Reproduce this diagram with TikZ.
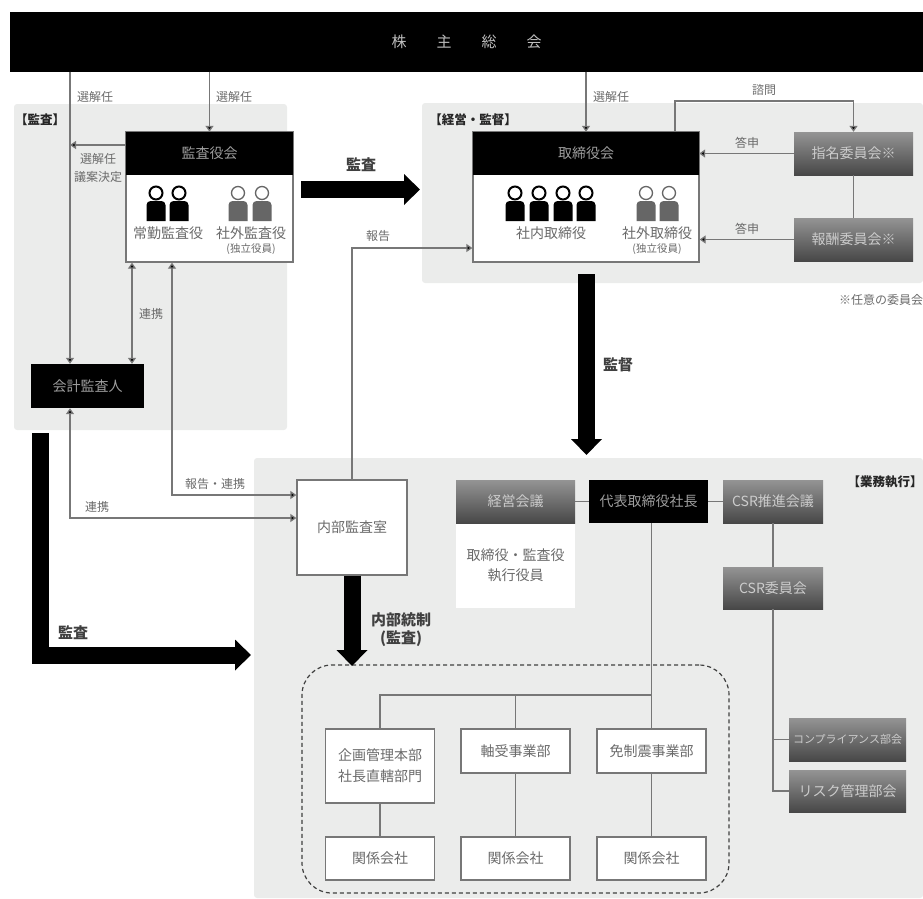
\documentclass[tikz,border=0pt]{standalone}
\usepackage{fontspec}
\setmainfont{Noto Sans CJK JP}
\usepackage{xcolor}
\usetikzlibrary{arrows.meta}
\definecolor{zonegray}{HTML}{EBECEB}
\definecolor{linegray}{HTML}{777777}
\definecolor{textgray}{HTML}{6A6A6A}
\tikzset{
  zone/.style={fill=zonegray,inner sep=0pt,rounded corners=3pt},
  whitebox/.style={draw=linegray,line width=1.3pt,fill=white,inner sep=0pt,text=textgray,font=\fontsize{14}{21}\selectfont,align=center},
  blackbox/.style={fill=black,inner sep=0pt,text=white!62!black,font=\fontsize{14}{16}\selectfont},
  graybox/.style={top color=black!42,bottom color=black!72,inner sep=0pt,text=white!80!black,font=\fontsize{14}{16}\selectfont},
  label/.style={text=textgray,inner sep=0pt,font=\fontsize{12}{18}\selectfont,align=center},
  namelabel/.style={text=textgray,inner sep=0pt,font=\fontsize{14}{16}\selectfont},
  indlabel/.style={text=textgray,inner sep=0pt,font=\fontsize{10.5}{12}\selectfont},
  arealabel/.style={text=black!85,inner sep=0pt,font=\fontsize{12.5}{14}\selectfont\bfseries},
  boldlabel/.style={text=black!75,inner sep=0pt,font=\fontsize{15}{18}\selectfont\bfseries,align=center},
  link/.style={draw=linegray,line width=1.3pt},
  tolink/.style={link,-{Triangle[length=6pt,width=8pt,fill=black]}},
  bothlink/.style={link,{Triangle[length=6pt,width=8pt,fill=black]}-{Triangle[length=6pt,width=8pt,fill=black]}},
  bigarrow/.style={draw=black,line width=17pt,line join=miter,-{Triangle[length=16pt,width=30pt]}}
}
\begin{document}
\begin{tikzpicture}[x=1pt,y=-1pt]
    \useasboundingbox (0,0) rectangle (923,898);

    % Shaded zones
    \node[zone,minimum width=273pt,minimum height=326pt] (auditZone) at (150.5,267) {};
    \node[zone,minimum width=501pt,minimum height=180pt] (boardZone) at (672.5,193) {};
    \node[zone,minimum width=669pt,minimum height=440pt] (execZone) at (588.5,678) {};

    % Shareholders
    \node[fill=black,inner sep=0pt,text=white!75!black,font=\fontsize{15}{17}\selectfont,minimum width=913pt,minimum height=60pt] (bar) at (466.5,41.5) {株　　主　　総　　会};

    % Audit board
    \node[whitebox,minimum width=167pt,minimum height=130pt] (audBox) at (209.5,197) {};
    \node[blackbox,minimum width=167pt,minimum height=43pt] (audHead) at (209.5,153.5) {監査役会};
    \node[namelabel] (audFull) at (168,233) {常勤監査役};
    \node[namelabel] (audOut) at (251,233) {社外監査役};
    \node[indlabel] (audInd) at (251,249) {(独立役員)};

    % Accounting auditor
    \node[blackbox,minimum width=113pt,minimum height=44pt] (acct) at (87.5,386) {会計監査人};

    % Board of directors
    \node[whitebox,minimum width=226pt,minimum height=130pt] (dirBox) at (586,197) {};
    \node[blackbox,minimum width=226pt,minimum height=43pt] (dirHead) at (586,153.5) {取締役会};
    \node[namelabel] (dirIn) at (551,233) {社内取締役};
    \node[namelabel] (dirOut) at (657,233) {社外取締役};
    \node[indlabel] (dirInd) at (657,249) {(独立役員)};

    % Committees
    \node[graybox,minimum width=119pt,minimum height=43pt] (nomin) at (853.5,153.5) {指名委員会※};
    \node[graybox,minimum width=119pt,minimum height=43pt] (reward) at (853.5,239.5) {報酬委員会※};
    \node[label] (optional) at (881,300) {※任意の委員会};

    % Execution side
    \node[whitebox,minimum width=110pt,minimum height=95pt] (internal) at (352,527.5) {内部監査室};
    \node[fill=white,inner sep=0pt,text=textgray,align=center,font=\fontsize{14}{20}\selectfont,minimum width=119pt,minimum height=85pt] (mgmtBody) at (515.5,565.5) {取締役・監査役\\執行役員};
    \node[graybox,minimum width=119pt,minimum height=43pt] (mgmt) at (515.5,501.5) {経営会議};
    \node[blackbox,minimum width=119pt,minimum height=43pt] (pres) at (648.5,501.5) {代表取締役社長};
    \node[graybox,minimum width=100pt,minimum height=43pt] (csr) at (773,501.5) {CSR推進会議};
    \node[graybox,minimum width=100pt,minimum height=42pt] (csrCom) at (773,588) {CSR委員会};
    \node[graybox,font=\fontsize{11}{13}\selectfont,minimum width=117pt,minimum height=43pt] (comply) at (847.5,739.5) {コンプライアンス部会};
    \node[graybox,minimum width=117pt,minimum height=42pt] (risk) at (847.5,791) {リスク管理部会};

    % Group companies
    \node[draw=black!75,dash pattern=on 4pt off 3pt,line width=1.2pt,rounded corners=30pt,inner sep=0pt,minimum width=427pt,minimum height=228pt] (group) at (515.5,779) {};
    \node[whitebox,minimum width=109pt,minimum height=74pt] (plan) at (380,766) {企画管理本部\\社長直轄部門};
    \node[whitebox,minimum width=109pt,minimum height=44pt] (bearing) at (515.5,751) {軸受事業部};
    \node[whitebox,minimum width=109pt,minimum height=44pt] (seismic) at (651.5,751) {免制震事業部};
    \node[whitebox,minimum width=109pt,minimum height=43pt] (subA) at (380,858.5) {関係会社};
    \node[whitebox,minimum width=109pt,minimum height=43pt] (subB) at (515.5,858.5) {関係会社};
    \node[whitebox,minimum width=109pt,minimum height=43pt] (subC) at (651.5,858.5) {関係会社};

    % Routing points
    \coordinate (colA) at (70,0);
    \coordinate (colB) at (132,0);
    \coordinate (colC) at (172,0);
    \coordinate (colD) at (586,0);
    \coordinate (colE) at (675,0);
    \coordinate (reportRow) at (0,495);
    \coordinate (linkRow) at (0,518);
    \coordinate (branchRow) at (0,695);

    % Appointment lines
    \draw[tolink] (bar.south -| colA) -- (acct.north -| colA);
    \draw[tolink] (bar.south -| audHead) -- (audHead.north);
    \draw[tolink] (bar.south -| colD) -- (dirHead.north -| colD);
    \draw[tolink] (audHead.west |- 0,145) -- (colA |- 0,145);

    % Audit links
    \draw[bothlink] (audBox.south -| colB) -- (acct.north -| colB);
    \draw[bothlink] (internal.west |- reportRow) -- (colC |- reportRow) -- (audBox.south -| colC);
    \draw[bothlink] (internal.west |- linkRow) -- (colA |- linkRow) -- (acct.south -| colA);
    \draw[tolink] (internal.north) -- (352,248) -- (dirBox.west |- 0,248);

    % Committee links
    \draw[tolink] (dirHead.north -| colE) -- (colE |- 0,101) -- (nomin.north |- 0,101) -- (nomin.north);
    \draw[tolink] (nomin.west) -- (dirHead.east |- nomin.west);
    \draw[tolink] (reward.west) -- (dirBox.east |- reward.west);
    \draw[link] (nomin.south) -- (reward.north);

    % Execution links
    \draw[link] (mgmt.east) -- (pres.west);
    \draw[link] (pres.east) -- (csr.west);
    \draw[link] (csr.south) -- (csrCom.north);
    \draw[link] (csrCom.south) -- (csrCom.south |- risk.west) -- (risk.west);
    \draw[link] (csrCom.south |- comply.west) -- (comply.west);
    \draw[link] (pres.south -| seismic) -- (seismic.north);
    \draw[link] (plan.north) -- (plan.north |- branchRow) -- (seismic.north |- branchRow);
    \draw[link] (bearing.north) -- (bearing.north |- branchRow);
    \foreach \i/\j in {plan/subA,bearing/subB,seismic/subC}
      \draw[link] (\i.south) -- (\j.north);

    % Heavy arrows
    \coordinate (auditStart) at (301,189.5);
    \coordinate (auditEnd) at (420,189.5);
    \coordinate (superStart) at (586.5,274);
    \coordinate (superEnd) at (586.5,455);
    \coordinate (ctrlEnd) at (352,666);
    \coordinate (outerStart) at (40,433);
    \coordinate (outerBend) at (40,655);
    \coordinate (outerEnd) at (251,655);
    \draw[bigarrow] (auditStart) -- (auditEnd);
    \draw[bigarrow] (superStart) -- (superEnd);
    \draw[bigarrow] (internal.south) -- (ctrlEnd);
    \draw[bigarrow] (outerStart) -- (outerBend) -- (outerEnd);

    % People
    \foreach \x/\c/\w in {156/black/2,179/black/2,238/black!60/1.3,262/black!60/1.3,515/black/2,539/black/2,563/black/2,586/black/2,646/black!60/1.3,669/black!60/1.3} {
      \draw[\c,line width=\w pt,fill=white] (\x,193) circle (6.5pt);
      \fill[\c,rounded corners=4pt] (\x-9.5,221) [sharp corners] -- (\x-9.5,209) [rounded corners=4pt] -- (\x-9.5,201) -- (\x+9.5,201) -- (\x+9.5,209) [sharp corners] -- (\x+9.5,221) -- cycle;
    }

    % Labels
    \node[label] (lblA) at (95,97) {選解任};
    \node[label] (lblB) at (234,97) {選解任};
    \node[label] (lblC) at (611,97) {選解任};
    \node[label] (lblD) at (98,168) {選解任\\議案決定};
    \node[label] (lblE) at (151,314) {連携};
    \node[label] (lblF) at (764,90) {諮問};
    \node[label] (lblG) at (747,143) {答申};
    \node[label] (lblH) at (747,229) {答申};
    \node[label] (lblI) at (378,236) {報告};
    \node[label] (lblJ) at (215,484) {報告・連携};
    \node[label] (lblK) at (97,507) {連携};
    \node[arealabel] (areaA) at (40,120) {【監査】};
    \node[arealabel] (areaB) at (473,120) {【経営・監督】};
    \node[arealabel] (areaC) at (885,482) {【業務執行】};
    \node[boldlabel] (auditA) at (361,165) {監査};
    \node[boldlabel] (superB) at (618,365) {監督};
    \node[boldlabel] (auditC) at (73,633) {監査};
    \node[boldlabel] (ctrl) at (401,630) {内部統制\\(監査)};
\end{tikzpicture}
\end{document}
